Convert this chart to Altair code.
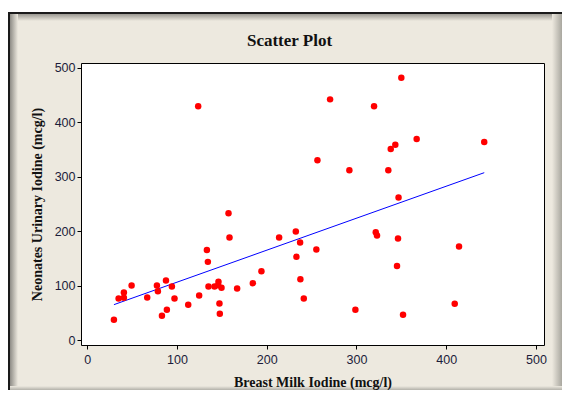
import altair as alt
import pandas as pd

# Breast milk iodine (x) vs neonates urinary iodine (y)
milk = [29.7, 34.9, 40.8, 40.8, 49.4, 66.8, 77.6, 78.7, 83.2, 87.7, 88.7, 94.3,
        97.2, 112.5, 124.7, 133.3, 134.4, 135.1, 141.8, 146.2, 145.9, 149.6, 147.3,
        147.7, 157.4, 158.5, 167.0, 184.5, 194.1, 213.8, 232.4, 233.1, 237.2, 237.5,
        241.3, 123.6, 255.3, 298.8, 321.5, 322.9, 346.3, 345.2, 351.9, 409.5, 414.3,
        346.9, 350.0, 270.6, 319.6, 367.1, 343.3, 338.2, 442.4, 256.5, 292.1, 335.5]
neonate = [37.3, 76.5, 87.5, 77.6, 100.3, 78.3, 100.3, 89.9, 44.6, 109.5, 55.6, 98.5,
           76.5, 64.8, 82.0, 165.7, 143.7, 98.5, 98.5, 107.0, 100.9, 96.0, 67.3,
           48.3, 233.0, 188.4, 94.8, 104.6, 126.6, 188.4, 199.4, 152.9, 179.3, 111.9,
           76.5, 429.4, 166.4, 55.6, 198.2, 192.1, 186.6, 136.3, 46.4, 66.6, 171.9,
           261.8, 482.0, 442.2, 429.4, 369.4, 359.0, 351.0, 363.9, 330.3, 311.9, 311.9]
x_ticks = [0, 100, 200, 300, 400, 500]
y_ticks = [0, 100, 200, 300, 400, 500]

df = pd.DataFrame({"milk": milk, "neonate": neonate})
dummy = pd.DataFrame({"d": [0]})

W, H = 463, 282
BEIGE = "#EDE9DF"
LABEL = "#1c1c3a"

xs = alt.Scale(domain=[-7, 509], nice=False, zero=False)
ys = alt.Scale(domain=[-9, 509], nice=False, zero=False)

xaxis = alt.Axis(values=x_ticks, title="Breast Milk Iodine (mcg/l)", grid=False, domain=False,
                 tickColor="black", tickSize=4, labelPadding=4, labelFont="Liberation Sans",
                 labelFontSize=12.5, labelColor=LABEL, titleFont="Liberation Serif",
                 titleFontSize=14, titleFontWeight="bold", titleColor="#111", titlePadding=10,
                 zindex=2)
yaxis = alt.Axis(values=y_ticks, title="Neonates Urinary Iodine (mcg/l)", grid=False, domain=False,
                 tickColor="black", tickSize=4, labelPadding=2, labelFont="Liberation Sans",
                 labelFontSize=12.5, labelColor=LABEL, titleFont="Liberation Serif",
                 titleFontSize=14, titleFontWeight="bold", titleColor="#111", titlePadding=10,
                 zindex=2)

points = alt.Chart(df).mark_circle(size=42, color="#FF0000", opacity=1).encode(
    x=alt.X("milk:Q", scale=xs, axis=xaxis),
    y=alt.Y("neonate:Q", scale=ys, axis=yaxis),
)

fit = alt.Chart(df).transform_regression("milk", "neonate").mark_line(
    color="#0000FF", strokeWidth=1).encode(
    x=alt.X("milk:Q", scale=xs),
    y=alt.Y("neonate:Q", scale=ys),
)


def grad(c0, c1, horizontal=True):
    if horizontal:
        return alt.Gradient(gradient="linear", x1=0, x2=1, y1=0, y2=0,
                            stops=[alt.GradientStop(color=c0, offset=0),
                                   alt.GradientStop(color=c1, offset=1)])
    return alt.Gradient(gradient="linear", x1=0, x2=0, y1=0, y2=1,
                        stops=[alt.GradientStop(color=c0, offset=0),
                               alt.GradientStop(color=c1, offset=1)])


L, T, R, B = -73, -51, 481, 327
deco = [
    # white strip above frame
    alt.Chart(dummy).mark_rect(color="white").encode(
        x=alt.value(L), x2=alt.value(R), y=alt.value(-55), y2=alt.value(T)),
    # top shading
    alt.Chart(dummy).mark_rect(fill=grad("#9a9891", BEIGE, False)).encode(
        x=alt.value(L), x2=alt.value(R), y=alt.value(T + 2), y2=alt.value(T + 9)),
    # left shading
    alt.Chart(dummy).mark_rect(fill=grad("#8e8c86", BEIGE)).encode(
        x=alt.value(L + 2), x2=alt.value(L + 10), y=alt.value(T), y2=alt.value(B)),
    # right shading
    alt.Chart(dummy).mark_rect(fill=grad(BEIGE, "#a9a79f")).encode(
        x=alt.value(R - 10), x2=alt.value(R), y=alt.value(T + 2), y2=alt.value(B)),
    # bottom shading
    alt.Chart(dummy).mark_rect(fill=grad(BEIGE, "#b3b1a9", False)).encode(
        x=alt.value(L + 2), x2=alt.value(R), y=alt.value(B - 4), y2=alt.value(B)),
    # dark frame lines
    alt.Chart(dummy).mark_rect(color="#1a1a1a").encode(
        x=alt.value(L), x2=alt.value(R), y=alt.value(T), y2=alt.value(T + 2)),
    alt.Chart(dummy).mark_rect(color="#1a1a1a").encode(
        x=alt.value(L), x2=alt.value(L + 2), y=alt.value(T), y2=alt.value(B)),
]

chart = alt.layer(*deco, fit, points).properties(
    width=W, height=H,
    title=alt.TitleParams("Scatter Plot", font="Liberation Serif", fontSize=17,
                          fontWeight="bold", color="#111", anchor="middle",
                          dx=-23, dy=55, offset=13),
    background=BEIGE,
    padding={"left": 73, "top": 55, "right": 18, "bottom": 45},
    autosize=alt.AutoSizeParams(type="none"),
).configure_view(stroke="black", strokeWidth=1, fill="white")

chart.save("out.html", embed_options={"renderer": "svg", "actions": False})
